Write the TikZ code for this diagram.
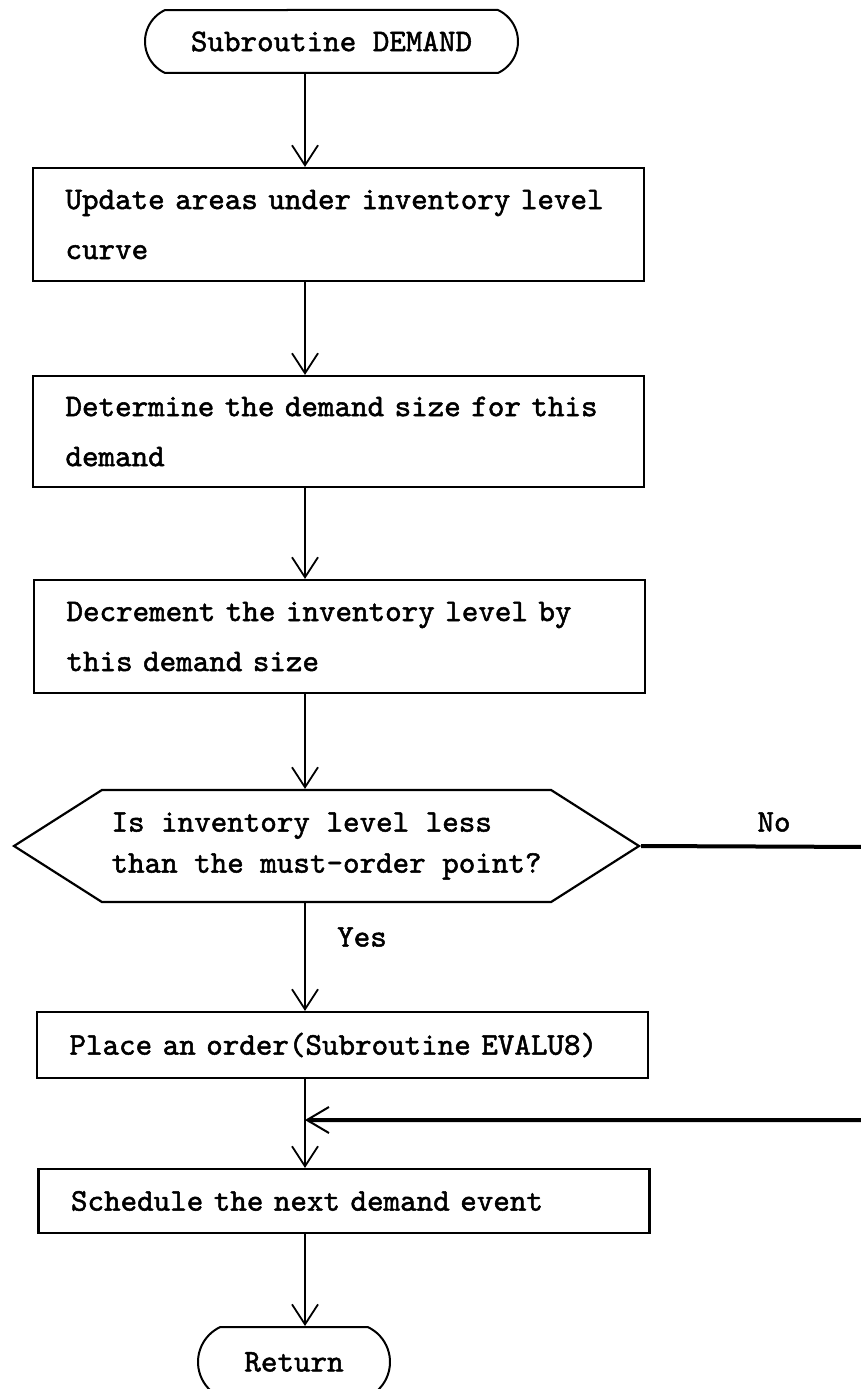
\documentclass[tikz,border=0pt]{standalone}
\usepackage{fontspec}
\usetikzlibrary{arrows.meta,shapes.misc,shapes.symbols}
% typewriter face, slightly emboldened
\newfontfamily\twfont{lmmono10-regular}[Extension=.otf, FakeBold=1.6]
\begin{document}
\begin{tikzpicture}[x=1pt,y=-1pt,
  tw/.style={font=\twfont\fontsize{31.5}{50}\selectfont},
  terminal/.style={tw, draw, line width=2pt, rounded rectangle,
    rounded rectangle arc length=130, inner sep=0pt},
  process/.style={tw, draw, line width=2.2pt, rectangle, text width=590pt,
    inner xsep=10.5pt, inner ysep=0pt,
    execute at begin node={\leftskip=22pt\parindent=0pt}},
  decision/.style={draw, line width=2.2pt, signal, signal to=east and west,
    signal pointer angle=65, minimum width=625pt, minimum height=112pt,
    inner sep=0pt, align=left,
    font=\twfont\fontsize{31.5}{41}\selectfont},
  flow/.style={line width=1.8pt,
    -{Straight Barb[length=20pt,width=26pt,line width=1.8pt]}},
  heavy/.style={line width=4pt,
    -{Straight Barb[length=22pt,width=26pt,line width=2pt]}},
  lbl/.style={tw}]
\useasboundingbox (0,0) rectangle (860,1389);

% vertical spine that carries the main flow
\coordinate (spine) at (305,0);

\node[terminal, minimum width=373pt, minimum height=63pt] (start) at (331.5,41.5) {Subroutine DEMAND};

\node[process, minimum height=113pt] (b1) at (338.5,224.5)
  {Update areas under inventory level\\curve};
\node[process, minimum height=111pt] (b2) at (338.5,431.5)
  {Determine the demand size for this\\demand};
\node[process, minimum height=113pt] (b3) at (339.5,636.5)
  {Decrement the inventory level by\\this demand size};

\node[decision] (dec) at (326.5,846)
  {Is inventory level less\\than the must-order point?};

\node[process, minimum height=66pt] (b4) at (342.5,1045)
  {Place an order(Subroutine EVALU8)};
\node[process, minimum height=64pt] (b5) at (344,1201)
  {Schedule the next demand event};

\node[terminal, minimum width=192pt, minimum height=70pt] (ret) at (294,1362) {Return};

% labels on the two exits of the decision
\node[lbl] (no) at (774,822) {No};
\node[lbl] (yes) at (362,937) {Yes};

% junction where the "No" branch rejoins
\coordinate (join) at (305,1120);
\coordinate (edge) at (875,847);

\draw[flow] (start.south -| spine) -- (b1.north -| spine);
\draw[flow] (b1.south -| spine) -- (b2.north -| spine);
\draw[flow] (b2.south -| spine) -- (b3.north -| spine);
\draw[flow] (b3.south -| spine) -- (dec.north -| spine);
\draw[flow] (dec.south -| spine) -- (b4.north -| spine);
\draw[flow] (b4.south -| spine) -- (b5.north -| spine);
\draw[flow] (b5.south -| spine) -- (ret.north -| spine);
\draw[heavy] (dec.east) -- (edge) |- (join);
\end{tikzpicture}
\end{document}
